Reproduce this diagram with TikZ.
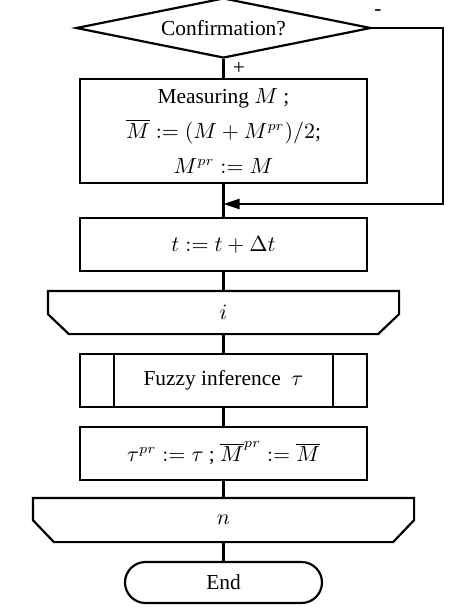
\documentclass[tikz,border=0pt]{standalone}
\usepackage{fontspec}
\setmainfont{Liberation Serif}
\usetikzlibrary{shapes.geometric,shapes.misc,arrows.meta}
\begin{document}
\begin{tikzpicture}[x=0.5pt,y=-0.5pt,line width=1.1pt,
    font=\fontsize{10.7}{17.5}\selectfont,
    decision/.style={draw,diamond,aspect=4.9,minimum width=147.5pt,minimum height=30pt,inner sep=0pt},
    proc/.style={draw,rectangle,minimum width=143.5pt,minimum height=26.5pt,inner sep=0pt},
    limit/.style={rectangle,inner sep=0pt,minimum height=20.5pt},
    terminal/.style={draw,rounded rectangle,minimum width=98.5pt,minimum height=20.5pt,inner sep=0pt}]
  \useasboundingbox (0,0) rectangle (474,612);
  \node[decision] (conf) at (223.5,28) {Confirmation?};
  \node[proc,minimum height=52pt,align=center] (meas) at (223.5,131)
    {Measuring $M$ ;\\ $\overline{M} := (M + M^{pr})/2$;\\ $M^{pr} := M$};
  \node[proc] (tstep) at (223.5,244.5) {$t := t + \Delta t$};
  \node[limit,minimum width=174.5pt] (loopi) at (223.5,312.5) {$i$};
  \node[proc] (fuzzy) at (223.5,380.5) {Fuzzy inference\ \ $\tau$};
  \node[proc] (upd) at (223.5,453.5) {$\tau^{pr} := \tau$ ; $\overline{M}^{pr} := \overline{M}$};
  \node[limit,minimum width=189.5pt,minimum height=21pt] (loopn) at (223.5,520) {$n$};
  \node[terminal] (stop) at (223.5,582.5) {End};
  \node (minus) at (378,13) {-};
  \node (plus) at (239,68) {+};
  \coordinate (rc) at (443,204);
  \coordinate (join) at (223.5,204);
  % loop limits
  \draw (loopi.north west) -- (loopi.north east) -- ([yshift=10pt]loopi.south east)
    -- ([xshift=-10.5pt]loopi.south east) -- ([xshift=10.5pt]loopi.south west)
    -- ([yshift=10pt]loopi.south west) -- cycle;
  \draw (loopn.north west) -- (loopn.north east) -- ([yshift=11pt]loopn.south east)
    -- ([xshift=-10.5pt]loopn.south east) -- ([xshift=10.5pt]loopn.south west)
    -- ([yshift=11pt]loopn.south west) -- cycle;
  \draw ([xshift=17.5pt]fuzzy.north west) -- ([xshift=17.5pt]fuzzy.south west)
    ([xshift=-17.5pt]fuzzy.north east) -- ([xshift=-17.5pt]fuzzy.south east);
  % connectors
  \draw (conf.south) -- (meas.north);
  \draw (meas.south) -- (tstep.north);
  \draw (tstep.south) -- (loopi.north);
  \draw (loopi.south) -- (fuzzy.north);
  \draw (fuzzy.south) -- (upd.north);
  \draw (upd.south) -- (loopn.north);
  \draw (loopn.south) -- (stop.north);
  \draw[-{Triangle[length=8pt,width=5pt]}] (conf.east) -| (rc) -- (join);
\end{tikzpicture}
\end{document}
